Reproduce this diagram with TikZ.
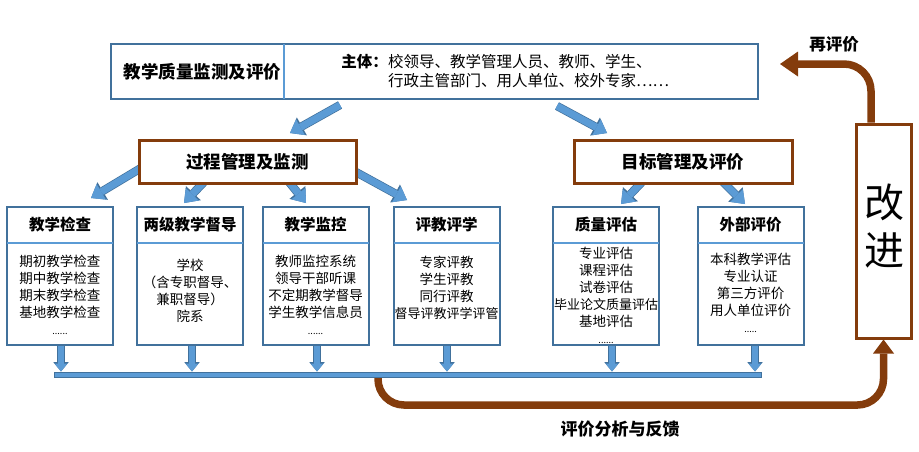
\documentclass[tikz,border=0pt]{standalone}
\usepackage{fontspec}
\setmainfont{Noto Sans CJK SC}
\usetikzlibrary{arrows.meta}
\definecolor{bdark}{HTML}{41719C}
\definecolor{ablue}{HTML}{5B9BD5}
\definecolor{brn}{HTML}{843C0C}
\begin{document}
\begin{tikzpicture}[x=1pt,y=-1pt,
  subbox/.style={draw=bdark, line width=2pt, fill=white, minimum width=106pt, minimum height=138pt, inner sep=0pt},
  hdr/.style={font=\fontsize{15.5}{18}\selectfont\bfseries, inner sep=0pt},
  body/.style={align=center, inner sep=0pt, font=\fontsize{13.5}{17}\selectfont},
  divline/.style={draw=ablue, line width=2pt},
  brbox/.style={draw=brn, line width=3pt, fill=white, inner sep=0pt, font=\fontsize{17.5}{20}\selectfont\bfseries},
  barrow/.style={draw=ablue, line width=7pt, -{Triangle[width=18pt,length=12pt,line width=0pt]},
     preaction={draw=bdark, line width=8.4pt, -{Triangle[width=20.5pt,length=13.6pt,line width=0pt]}}},
  darrow/.style={draw=ablue, line width=6pt, -{Triangle[width=13pt,length=8pt,line width=0pt]},
     preaction={draw=bdark, line width=7.4pt, -{Triangle[width=15.5pt,length=9.4pt,line width=0pt]}}},
  brarrow/.style={draw=brn, line width=7.5pt, rounded corners=26pt, -{Triangle[width=21pt,length=14pt,line width=0pt]}},
  brarrowb/.style={draw=brn, line width=7.5pt, rounded corners=27pt, -{Triangle[width=25pt,length=18pt,line width=0pt]}}
]
\useasboundingbox (0,0) rectangle (919,451);

% improvement box
\node[draw=brn, line width=3pt, fill=white, minimum width=55pt, minimum height=214pt, inner sep=0pt] (gj) at (883.5,231) {};
\node[align=center, inner sep=0pt, font=\fontsize{40}{48}\selectfont] (gjt) at (884,226) {改\\进};

% feedback arrow
\coordinate (fb) at (378,376);
\draw[brarrow] (fb) -- ++(0,29) -| (gj.south);
\node[inner sep=0pt, font=\fontsize{17}{20}\selectfont\bfseries] (fk) at (620,429) {评价分析与反馈};

% re-evaluation arrow
\coordinate (rp) at (780,64);
\draw[brarrowb] ([xshift=-12.5pt]gj.north) |- (rp);
\node[inner sep=0pt, font=\fontsize{16.5}{18}\selectfont\bfseries] (zpj) at (834,44) {再评价};

% collecting bar
\node[draw=bdark, fill=ablue, line width=1pt, minimum width=707pt, minimum height=5pt, inner sep=0pt] (bar) at (407.5,374.5) {};

% down arrows
\coordinate (dA) at (61,344);
\coordinate (dB) at (192,344);
\coordinate (dC) at (317,344);
\coordinate (dD) at (447,344);
\coordinate (dE) at (612,344);
\coordinate (dF) at (755,344);
\foreach \c in {dA,dB,dC,dD,dE,dF}{
  \draw[darrow] (\c) -- (\c |- bar.north);
}

% block arrows
\coordinate (t1s) at (340,105); \coordinate (t1e) at (290,133);
\coordinate (t2s) at (557,106); \coordinate (t2e) at (607,133);
\coordinate (a1s) at (141,168); \coordinate (a1e) at (91,198);
\coordinate (a2s) at (204,182); \coordinate (a2e) at (184,203);
\coordinate (a3s) at (289,182); \coordinate (a3e) at (306,203);
\coordinate (a4s) at (354,171); \coordinate (a4e) at (407,200);
\coordinate (b1s) at (642,182); \coordinate (b1e) at (621,204);
\coordinate (b2s) at (723,182); \coordinate (b2e) at (745,204);
\draw[barrow] (t1s) -- (t1e);
\draw[barrow] (t2s) -- (t2e);
\draw[barrow] (a1s) -- (a1e);
\draw[barrow] (a2s) -- (a2e);
\draw[barrow] (a3s) -- (a3e);
\draw[barrow] (a4s) -- (a4e);
\draw[barrow] (b1s) -- (b1e);
\draw[barrow] (b2s) -- (b2e);

% top box
\node[draw=bdark, line width=2pt, fill=white, minimum width=647pt, minimum height=55pt, inner sep=0pt] (top) at (434.5,71.5) {};
\draw[divline] ([yshift=-1pt]top.north -| 284,0) -- ([yshift=1pt]top.south -| 284,0);
\node[inner sep=0pt, font=\fontsize{17.5}{20}\selectfont\bfseries] (toptitle) at (202.5,72) {教学质量监测及评价};
\node[anchor=west, inner sep=0pt, font=\fontsize{15.5}{19}\selectfont] (l1) at (388,62) {校领导、教学管理人员、教师、学生、};
\node[anchor=west, inner sep=0pt, font=\fontsize{15.5}{19}\selectfont] (l2) at (388,80.5) {行政主管部门、用人单位、校外专家……};
\node[anchor=base east, inner sep=0pt, font=\fontsize{15.5}{19}\selectfont\bfseries] (zt) at (l1.base west) {主体：};

% process / target boxes
\node[brbox, minimum width=217pt, minimum height=43pt] (gc) at (247.5,161.5) {过程管理及监测};
\node[brbox, minimum width=218pt, minimum height=43pt] (mb) at (683,161.5) {目标管理及评价};

% sub boxes
\node[subbox] (A) at (60,276) {};
\node[subbox] (B) at (190,276) {};
\node[subbox] (C) at (315.5,276) {};
\node[subbox] (D) at (446.5,276) {};
\node[subbox] (E) at (606,276) {};
\node[subbox] (F) at (750.5,276) {};
\foreach \b in {A,B,C,D,E,F}{
  \draw[divline] ([xshift=1pt]\b.west |- 0,243) -- ([xshift=-1pt]\b.east |- 0,243);
}
\node[hdr] (Ah) at (A.center |- 0,225) {教学检查};
\node[hdr] (Bh) at (B.center |- 0,225) {两级教学督导};
\node[hdr] (Ch) at (C.center |- 0,225) {教学监控};
\node[hdr] (Dh) at (D.center |- 0,225) {评教评学};
\node[hdr] (Eh) at (E.center |- 0,225) {质量评估};
\node[hdr] (Fh) at (F.center |- 0,225) {外部评价};

\node[body] (Ab) at (A.center |- 0,295) {期初教学检查\\期中教学检查\\期末教学检查\\基地教学检查\\{\fontsize{9}{10}\selectfont ......}};
\node[body] (Bb) at (B.center |- 0,291) {学校\\（含专职督导、\\兼职督导）\\院系};
\node[body] (Cb) at (C.center |- 0,294.5) {教师监控系统\\领导干部听课\\不定期教学督导\\学生教学信息员\\{\fontsize{9}{10}\selectfont ......}};
\node[body] (Db) at (D.center |- 0,287.5) {专家评教\\学生评教\\同行评教\\{\fontsize{13}{17}\selectfont 督导评教评学评管}};
\node[body] (Eb) at (E.center |- 0,295) {专业评估\\课程评估\\试卷评估\\{\fontsize{13}{17}\selectfont 毕业论文质量评估}\\基地评估\\{\fontsize{9}{10}\selectfont ......}};
\node[body] (Fb) at (F.center |- 0,293) {本科教学评估\\专业认证\\第三方评价\\用人单位评价\\{\fontsize{9}{10}\selectfont .....}};
\end{tikzpicture}
\end{document}
